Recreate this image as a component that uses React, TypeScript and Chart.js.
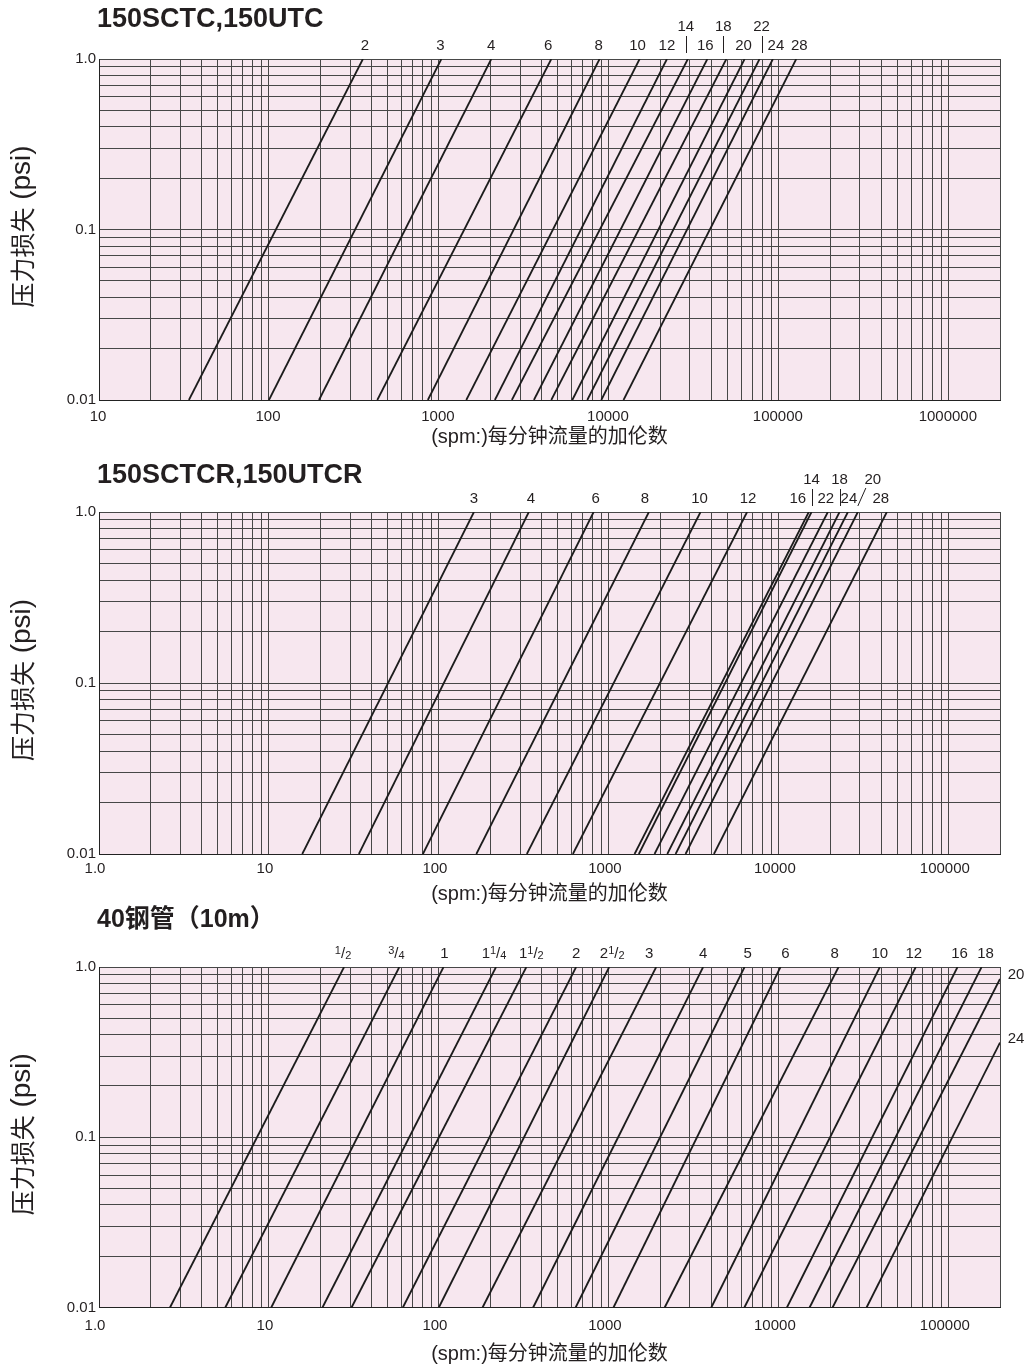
import React, { useEffect, useRef } from 'react';
import { Chart, registerables } from 'chart.js';

Chart.register(...registerables);

// ================= DATA =================
// Shared y axis (pressure loss, psi)
const yTickValues = [0.01, 0.1, 1];
const yTickLabels = ['0.01', '0.1', '1.0'];
const pressureLow = 0.01;

// Chart 1: 150SCTC,150UTC  (flow in gpm at 0.01 psi and at 1.0 psi)
const c1Sizes = ['2', '3', '4', '6', '8', '10', '12', '14', '16', '18', '20', '22', '24', '28'];
const c1FlowAtLow = [33.8, 100, 197, 434, 861, 1449, 2134, 2686, 3621, 4581, 6092, 7465, 9020, 12190];
const c1FlowAtEnd = [357, 1033, 2032, 4581, 8810, 15160, 21950, 29150, 37940, 49080, 62850, 76940, 92210, 126500];
const c1PressureAtEnd = [1, 1, 1, 1, 1, 1, 1, 1, 1, 1, 1, 1, 1, 1];
const c1XTickValues = [10, 100, 1000, 10000, 100000, 1000000];
const c1XTickLabels = ['10', '100', '1000', '10000', '100000', '1000000'];

// Chart 2: 150SCTCR,150UTCR
const c2Sizes = ['3', '4', '6', '8', '10', '12', '14', '16', '18', '20', '22', '24', '28'];
const c2FlowAtLow = [15.7, 33.8, 80.5, 166, 329, 614, 1500, 1416, 2206, 2826, 1856, 2468, 4150];
const c2FlowAtEnd = [160.7, 338, 813, 1719, 3460, 6500, 15560, 15000, 22750, 29150, 19410, 25470, 43170];
const c2PressureAtEnd = [1, 1, 1, 1, 1, 1, 1, 1, 1, 1, 1, 1, 1];
const c2XTickValues = [1, 10, 100, 1000, 10000, 100000];
const c2XTickLabels = ['1.0', '10', '100', '1000', '10000', '100000'];

// Chart 3: 40钢管（10m）
const c3Sizes = ['1/2', '3/4', '1', '1 1/4', '1 1/2', '2', '2 1/2', '3', '4', '5', '6', '8', '10', '12', '16', '18', '20', '24'];
const c3FlowAtLow = [2.616, 5.534, 10.31, 20.64, 30.61, 61.33, 99.86, 180.5, 358.2, 637, 1064, 2129, 4003, 6268, 11150, 15160, 20700, 32800];
const c3FlowAtEnd = [27.66, 58.5, 106.4, 216.7, 326.8, 641.4, 1004, 1898, 3583, 6284, 10220, 22450, 39280, 63880, 112500, 155800, 200000, 200000];
const c3PressureAtEnd = [1, 1, 1, 1, 1, 1, 1, 1, 1, 1, 1, 1, 1, 1, 1, 1, 0.85, 0.36];
const c3XTickValues = [1, 10, 100, 1000, 10000, 100000];
const c3XTickLabels = ['1.0', '10', '100', '1000', '10000', '100000'];

const X_TITLE = '(spm:)每分钟流量的加伦数';
const Y_TITLE_CJK = '压力损失';
const Y_TITLE_UNIT = ' (psi)';

// ================= STYLE / LAYOUT =================
const PINK = 'rgb(247,231,239)';
const GRID = '#474747';
const INK = '#231f20';
const LINE = '#1c1c1c';
const LATIN = '"Liberation Sans", Arial, sans-serif';
const MIXED = '"Liberation Sans", "Noto Sans CJK SC", sans-serif';
const CJK = '"Noto Sans CJK SC", sans-serif';

type LabelPos = { dx: number; row: 0 | 1 | 'side'; mark?: 'bar' | 'slash'; dy?: number };

const c1Layout: LabelPos[] = [
  { dx: 2, row: 0 }, { dx: -1, row: 0 }, { dx: 0, row: 0 }, { dx: -3, row: 0 }, { dx: -1, row: 0 },
  { dx: -2, row: 0 }, { dx: 0, row: 0 }, { dx: -2, row: 1, mark: 'bar' }, { dx: -2, row: 0 },
  { dx: -3, row: 1, mark: 'bar' }, { dx: -1, row: 0 }, { dx: 2, row: 1, mark: 'bar' }, { dx: 3, row: 0 },
  { dx: 3, row: 0 },
];
const c2Layout: LabelPos[] = [
  { dx: 0, row: 0 }, { dx: 2, row: 0 }, { dx: 2, row: 0 }, { dx: -4, row: 0 }, { dx: -1, row: 0 },
  { dx: 1, row: 0 }, { dx: 0, row: 1, mark: 'bar' }, { dx: -11, row: 0 }, { dx: 0, row: 1, mark: 'bar' },
  { dx: 15, row: 1, mark: 'slash' }, { dx: -2, row: 0 }, { dx: 1, row: 0 }, { dx: -6, row: 0 },
];
const c3Layout: LabelPos[] = [
  { dx: -1, row: 0 }, { dx: -3, row: 0 }, { dx: 1, row: 0 }, { dx: -2, row: 0 }, { dx: 5, row: 0 },
  { dx: 0, row: 0 }, { dx: 3, row: 0 }, { dx: -7, row: 0 }, { dx: 0, row: 0 }, { dx: 3, row: 0 },
  { dx: 5, row: 0 }, { dx: -4, row: 0 }, { dx: 0, row: 0 }, { dx: -2, row: 0 }, { dx: 2, row: 0 },
  { dx: 4, row: 0 }, { dx: 0, row: 'side', dy: -4 }, { dx: 0, row: 'side', dy: -4 },
];

interface Spec {
  top: number;
  height: number;
  plotTop: number;
  plotBottom: number;
  title: string;
  titleSize: number;
  titleY: number;
  xMin: number;
  xMax: number;
  xTicks: number[];
  xLabels: string[];
  xLabelOffset: number;
  xPad: number;
  xTitleY: number;
  sizes: string[];
  low: number[];
  end: number[];
  endP: number[];
  layout: LabelPos[];
}

const specs: Spec[] = [
  {
    top: 0, height: 455, plotTop: 59, plotBottom: 400, title: '150SCTC,150UTC', titleSize: 27, titleY: 20,
    xMin: 10, xMax: 2000000, xTicks: c1XTickValues, xLabels: c1XTickLabels, xLabelOffset: -1, xPad: 8,
    xTitleY: 437, sizes: c1Sizes, low: c1FlowAtLow, end: c1FlowAtEnd, endP: c1PressureAtEnd, layout: c1Layout,
  },
  {
    top: 455, height: 450, plotTop: 57, plotBottom: 399, title: '150SCTCR,150UTCR', titleSize: 27, titleY: 21,
    xMin: 1, xMax: 200000, xTicks: c2XTickValues, xLabels: c2XTickLabels, xLabelOffset: -4, xPad: 6,
    xTitleY: 439, sizes: c2Sizes, low: c2FlowAtLow, end: c2FlowAtEnd, endP: c2PressureAtEnd, layout: c2Layout,
  },
  {
    top: 905, height: 460, plotTop: 62, plotBottom: 402.5, title: '40钢管（10m）', titleSize: 25, titleY: 15,
    xMin: 1, xMax: 200000, xTicks: c3XTickValues, xLabels: c3XTickLabels, xLabelOffset: -4, xPad: 9,
    xTitleY: 449, sizes: c3Sizes, low: c3FlowAtLow, end: c3FlowAtEnd, endP: c3PressureAtEnd, layout: c3Layout,
  },
];

function logGrid(min: number, max: number): number[] {
  const out: number[] = [];
  const e0 = Math.floor(Math.log10(min) + 1e-9);
  const e1 = Math.ceil(Math.log10(max) - 1e-9);
  for (let e = e0; e <= e1; e++) {
    for (let k = 1; k <= 9; k++) {
      const v = Number((k * Math.pow(10, e)).toPrecision(10));
      if (v >= min * (1 - 1e-9) && v <= max * (1 + 1e-9)) out.push(v);
    }
  }
  return out;
}

function tickLabel(v: number, vals: number[], labels: string[]): string {
  const i = vals.findIndex((t) => Math.abs(t - v) <= t * 1e-6);
  return i >= 0 ? labels[i] : '';
}

function drawSizeLabel(ctx: CanvasRenderingContext2D, text: string, cx: number, cy: number) {
  ctx.textBaseline = 'middle';
  if (!text.includes('/')) {
    ctx.font = `15px ${LATIN}`;
    ctx.textAlign = 'center';
    ctx.fillText(text, cx, cy);
    return;
  }
  const parts = text.split(' ');
  const whole = parts.length > 1 ? parts[0] : '';
  const [num, den] = parts[parts.length - 1].split('/');
  const big = `15px ${LATIN}`;
  const small = `11px ${LATIN}`;
  ctx.font = big;
  const wWhole = whole ? ctx.measureText(whole).width : 0;
  const wSlash = ctx.measureText('/').width;
  ctx.font = small;
  const wNum = ctx.measureText(num).width;
  const wDen = ctx.measureText(den).width;
  const total = wWhole + wNum + wSlash + wDen;
  let x = cx - total / 2;
  ctx.textAlign = 'left';
  if (whole) {
    ctx.font = big;
    ctx.fillText(whole, x, cy);
    x += wWhole;
  }
  ctx.font = small;
  ctx.fillText(num, x, cy - 3);
  x += wNum;
  ctx.font = big;
  ctx.fillText('/', x, cy);
  x += wSlash;
  ctx.font = small;
  ctx.fillText(den, x, cy + 2);
}

function makeOverlay(spec: Spec) {
  return {
    id: 'overlay',
    beforeDraw(chart: any) {
      const { ctx, chartArea: a } = chart;
      ctx.save();
      ctx.fillStyle = PINK;
      ctx.fillRect(a.left, a.top, a.right - a.left, a.bottom - a.top);
      ctx.restore();
    },
    afterDraw(chart: any) {
      const ctx: CanvasRenderingContext2D = chart.ctx;
      const a = chart.chartArea;
      const xs = chart.scales.x;
      const ys = chart.scales.y;
      ctx.save();
      ctx.fillStyle = INK;
      ctx.strokeStyle = INK;

      ctx.font = `bold ${spec.titleSize}px ${MIXED}`;
      ctx.textAlign = 'left';
      ctx.textBaseline = 'middle';
      ctx.fillText(spec.title, 97, spec.titleY);

      ctx.font = `20px ${MIXED}`;
      ctx.textAlign = 'center';
      ctx.fillText(X_TITLE, (a.left + a.right) / 2, spec.xTitleY);

      ctx.save();
      ctx.translate(22, (a.top + a.bottom) / 2 - 3);
      ctx.rotate(-Math.PI / 2);
      ctx.font = `25px ${CJK}`;
      const w1 = ctx.measureText(Y_TITLE_CJK).width;
      ctx.font = `28px ${LATIN}`;
      const w2 = ctx.measureText(Y_TITLE_UNIT).width;
      const x0 = -(w1 + w2) / 2;
      ctx.textAlign = 'left';
      ctx.textBaseline = 'middle';
      ctx.font = `25px ${CJK}`;
      ctx.fillText(Y_TITLE_CJK, x0, 0);
      ctx.font = `28px ${LATIN}`;
      ctx.fillText(Y_TITLE_UNIT, x0 + w1, 0);
      ctx.restore();

      ctx.lineWidth = 1;
      spec.sizes.forEach((s, i) => {
        const L = spec.layout[i];
        if (L.row === 'side') {
          const y = ys.getPixelForValue(spec.endP[i]) + (L.dy || 0);
          drawSizeLabel(ctx, s, a.right + 16, y);
          return;
        }
        const lx = xs.getPixelForValue(spec.end[i]);
        const cx = lx + L.dx;
        const cy = L.row === 1 ? a.top - 32 : a.top - 13.5;
        drawSizeLabel(ctx, s, cx, cy);
        if (L.mark === 'bar') {
          ctx.beginPath();
          ctx.moveTo(Math.round(cx) + 0.5, a.top - 23);
          ctx.lineTo(Math.round(cx) + 0.5, a.top - 6);
          ctx.stroke();
        } else if (L.mark === 'slash') {
          ctx.beginPath();
          ctx.moveTo(lx, a.top - 6);
          ctx.lineTo(cx - 7, a.top - 24);
          ctx.stroke();
        }
      });
      ctx.restore();
    },
  };
}

function buildChart(canvas: HTMLCanvasElement, spec: Spec): Chart {
  const datasets = spec.sizes.map((s, i) => ({
    label: s,
    data: [
      { x: spec.low[i], y: pressureLow },
      { x: spec.end[i], y: spec.endP[i] },
    ],
    showLine: true,
    borderColor: LINE,
    backgroundColor: LINE,
    borderWidth: 1.8,
    pointRadius: 0,
    fill: false,
  }));
  const xGrid = logGrid(spec.xMin, spec.xMax);
  const yGrid = logGrid(0.01, 1);
  return new Chart(canvas, {
    type: 'scatter',
    data: { datasets },
    plugins: [makeOverlay(spec)],
    options: {
      responsive: false,
      animation: false,
      devicePixelRatio: 1,
      events: [],
      layout: { padding: { top: spec.plotTop, right: 27, left: 0, bottom: 0 } },
      plugins: { legend: { display: false }, tooltip: { enabled: false }, title: { display: false } },
      scales: {
        x: {
          type: 'logarithmic',
          min: spec.xMin,
          max: spec.xMax,
          afterBuildTicks: (scale: any) => {
            scale.ticks = xGrid.map((value) => ({ value }));
          },
          afterFit: (scale: any) => {
            scale.height = spec.height - spec.plotBottom;
          },
          grid: { color: GRID, lineWidth: 1, drawTicks: false },
          border: { display: true, color: '#222', width: 1 },
          ticks: {
            autoSkip: false,
            maxRotation: 0,
            minRotation: 0,
            padding: spec.xPad,
            labelOffset: spec.xLabelOffset,
            color: INK,
            font: { family: 'Liberation Sans', size: 15 },
            callback: (v: any) => tickLabel(Number(v), spec.xTicks, spec.xLabels),
          },
        },
        y: {
          type: 'logarithmic',
          min: 0.01,
          max: 1,
          afterBuildTicks: (scale: any) => {
            scale.ticks = yGrid.map((value) => ({ value }));
          },
          afterFit: (scale: any) => {
            scale.width = 99;
          },
          grid: { color: GRID, lineWidth: 1, drawTicks: false },
          border: { display: true, color: '#222', width: 1 },
          ticks: {
            autoSkip: false,
            padding: 3,
            color: INK,
            font: { family: 'Liberation Sans', size: 15 },
            callback: (v: any) => tickLabel(Number(v), yTickValues, yTickLabels),
          },
        },
      },
    } as any,
  });
}

function PanelChart({ spec }: { spec: Spec }) {
  const ref = useRef<HTMLCanvasElement | null>(null);
  useEffect(() => {
    if (!ref.current) return;
    const chart = buildChart(ref.current, spec);
    return () => chart.destroy();
  }, [spec]);
  return (
    <canvas
      ref={ref}
      width={1027}
      height={spec.height}
      style={{ position: 'absolute', left: 0, top: spec.top, width: 1027, height: spec.height, display: 'block' }}
    />
  );
}

export default function App() {
  return (
    <div style={{ position: 'absolute', left: 0, top: 0, width: 1027, height: 1365, background: '#fff', overflow: 'hidden' }}>
      {specs.map((s, i) => (
        <PanelChart key={i} spec={s} />
      ))}
    </div>
  );
}
